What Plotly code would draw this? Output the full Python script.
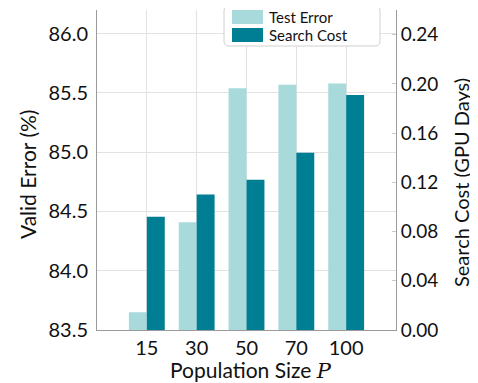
import plotly.graph_objects as go

pop_sizes = ["15", "30", "50", "70", "100"]
test_error = [83.65, 84.41, 85.54, 85.57, 85.58]
search_cost = [0.092, 0.110, 0.122, 0.144, 0.191]
left_ticks = [83.5, 84.0, 84.5, 85.0, 85.5, 86.0]
right_ticks = [0.00, 0.04, 0.08, 0.12, 0.16, 0.20, 0.24]
series_names = ["Test Error", "Search Cost"]

LIGHT = "#A8DADC"
DARK = "#007F94"
FONT = "Lato"
GRID = "#E2E2E2"
AXIS = "#9A9A9A"

fig = go.Figure()
fig.add_bar(x=pop_sizes, y=test_error, name=series_names[0], marker_color=LIGHT,
            marker_line_width=0, offset=-0.36, width=0.36, yaxis="y", showlegend=False)
fig.add_bar(x=pop_sizes, y=search_cost, name=series_names[1], marker_color=DARK,
            marker_line_width=0, offset=0.0, width=0.36, yaxis="y2", showlegend=False)

# page has an 8px body margin: figure sits at (8, 8) in the window
OFF = 8
W, H = 478 - OFF, 383 - OFF
PL, PR, PT, PB = 97, 396, 10, 330          # plot area in window pixels
L, R, T, B = PL - OFF, W - (PR - OFF), PT - OFF, H - (PB - OFF)
pw, ph = PR - PL, PB - PT

def px_x(p):
    return (p - PL) / pw

def px_y(p):
    return (PB - p) / ph

def rounded_rect(x0, y0, x1, y1, r):
    X = px_x
    Y = px_y
    return (f"M {X(x0 + r)} {Y(y0)} L {X(x1 - r)} {Y(y0)} Q {X(x1)} {Y(y0)} {X(x1)} {Y(y0 + r)} "
            f"L {X(x1)} {Y(y1 - r)} Q {X(x1)} {Y(y1)} {X(x1 - r)} {Y(y1)} "
            f"L {X(x0 + r)} {Y(y1)} Q {X(x0)} {Y(y1)} {X(x0)} {Y(y1 - r)} "
            f"L {X(x0)} {Y(y0 + r)} Q {X(x0)} {Y(y0)} {X(x0 + r)} {Y(y0)} Z")

shapes = [
    dict(type="path", xref="paper", yref="paper", path=rounded_rect(224, 6, 380, 46, 5),
         fillcolor="white", line=dict(color="#D0D0D0", width=1), layer="above"),
]
annotations = []
for i, (name, col) in enumerate(zip(series_names, [LIGHT, DARK])):
    top = 10 + i * 18
    shapes.append(dict(type="rect", xref="paper", yref="paper",
                       x0=px_x(232), x1=px_x(263), y0=px_y(top), y1=px_y(top + 14),
                       fillcolor=col, line=dict(width=0), layer="above"))
    annotations.append(dict(xref="paper", yref="paper", x=px_x(267), y=px_y(top + 7),
                            text=name, showarrow=False, xanchor="left", yanchor="middle",
                            font=dict(family=FONT, size=15, color="#111")))

# axis titles
annotations.append(dict(xref="paper", yref="paper", x=px_x(251), y=px_y(370),
                        text="Population Size <i><span style=\"font-family:'DejaVu Serif'\">P</span></i>",
                        showarrow=False, xanchor="center", yanchor="middle",
                        font=dict(family=FONT, size=21, color="#111")))
annotations.append(dict(xref="paper", yref="paper", x=px_x(27), y=px_y(175),
                        text="Valid Error (%)", textangle=-90,
                        showarrow=False, xanchor="center", yanchor="middle",
                        font=dict(family=FONT, size=21, color="#111")))
annotations.append(dict(xref="paper", yref="paper", x=px_x(461), y=px_y(183),
                        text="Search Cost (GPU Days)", textangle=-90,
                        showarrow=False, xanchor="center", yanchor="middle",
                        font=dict(family=FONT, size=20, color="#111")))

fig.update_layout(
    width=W, height=H,
    margin=dict(l=L, r=R, t=T, b=B),
    plot_bgcolor="white", paper_bgcolor="white",
    font=dict(family=FONT, color="#111"),
    shapes=shapes, annotations=annotations,
    xaxis=dict(type="category", range=[-1, 5], showgrid=True, gridcolor=GRID, gridwidth=1,
               showline=True, linecolor=AXIS, linewidth=1, ticks="", automargin=False,
               tickfont=dict(size=20)),
    yaxis=dict(range=[83.5, 86.2], tickvals=left_ticks,
               ticktext=[f"{v:.1f}" for v in left_ticks],
               showgrid=True, gridcolor=GRID, gridwidth=1, zeroline=False,
               showline=True, linecolor=AXIS, linewidth=1, ticks="", automargin=False,
               ticklabelstandoff=4,
               tickfont=dict(size=20)),
    yaxis2=dict(range=[0, 0.26], overlaying="y", side="right", tickvals=right_ticks,
                ticktext=[f"{v:.2f}" for v in right_ticks],
                showgrid=False, zeroline=False, showline=True, linecolor=AXIS, linewidth=1,
                ticks="inside", ticklen=4, tickcolor="#C8C8C8", automargin=False,
                tickfont=dict(size=19)),
)

fig.write_html("out.html")
